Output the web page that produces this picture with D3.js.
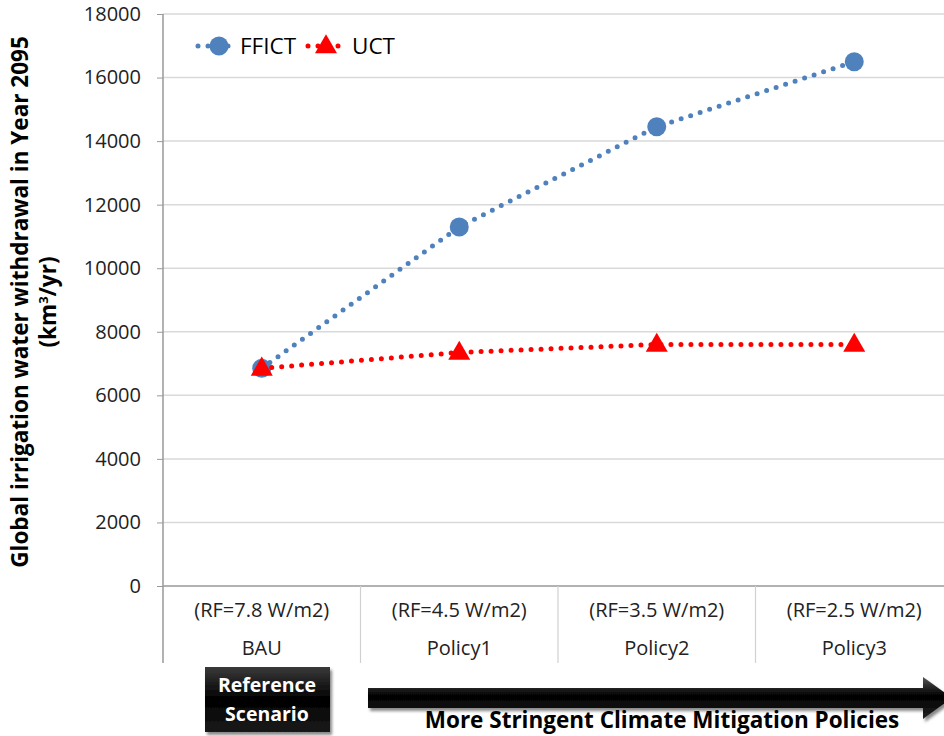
<!DOCTYPE html>
<html>
<head>
<meta charset="utf-8">
<script src="https://cdn.jsdelivr.net/npm/d3@7"></script>
<style>
  body { margin: 0; background: #fff; }
  svg { display: block; font-family: "Open Sans", "Liberation Sans", sans-serif; }
</style>
</head>
<body>
<svg id="chart" width="944" height="736"></svg>
<script>
var categories = ["BAU", "Policy1", "Policy2", "Policy3"]
var rfLabels = ["(RF=7.8 W/m2)", "(RF=4.5 W/m2)", "(RF=3.5 W/m2)", "(RF=2.5 W/m2)"]
var ffict = [6850, 11300, 14450, 16500]
var uct = [6850, 7350, 7600, 7600]
var yTicks = [0, 2000, 4000, 6000, 8000, 10000, 12000, 14000, 16000, 18000]

var plotL = 163, plotR = 953, plotT = 14, plotB = 586, catB = 663
var blue = "#4F81BD", red = "#FF0000"

var svg = d3.select("#chart")
var defs = svg.append("defs")

var x = d3.scaleBand().domain(categories).range([plotL, plotR])
var y = d3.scaleLinear().domain([0, 18000]).range([plotB, plotT])

function cx(i) { return x(categories[i]) + x.bandwidth() / 2 }

// gridlines
svg.append("g").selectAll("line")
  .data(yTicks.filter(function(d) { return d > 0 }))
  .enter().append("line")
  .attr("x1", plotL).attr("x2", plotR)
  .attr("y1", function(d) { return y(d) }).attr("y2", function(d) { return y(d) })
  .attr("stroke", "#D9D9D9").attr("stroke-width", 1.5)

// y axis
var yAxis = d3.axisLeft(y).tickValues(yTicks).tickSize(6).tickPadding(16).tickFormat(d3.format("d"))
var ya = svg.append("g").attr("transform", "translate(" + plotL + ",0)").call(yAxis)
ya.select(".domain").remove()
ya.selectAll(".tick line").attr("stroke", "#999")
ya.selectAll(".tick text").attr("font-size", 20).attr("fill", "#222")
  .attr("font-family", "Open Sans, sans-serif")
svg.append("line").attr("x1", plotL).attr("x2", plotL).attr("y1", plotT).attr("y2", catB)
  .attr("stroke", "#999").attr("stroke-width", 1.5)

// category axis
svg.append("line").attr("x1", plotL).attr("x2", plotR).attr("y1", plotB).attr("y2", plotB)
  .attr("stroke", "#999").attr("stroke-width", 1.5)
svg.append("g").selectAll("line")
  .data(categories.slice(1))
  .enter().append("line")
  .attr("x1", function(d) { return x(d) }).attr("x2", function(d) { return x(d) })
  .attr("y1", plotB).attr("y2", catB)
  .attr("stroke", "#D0D0D0").attr("stroke-width", 1.2)

var cat = svg.append("g").selectAll("g").data(categories).enter().append("g")
  .attr("transform", function(d, i) { return "translate(" + cx(i) + ",0)" })
cat.append("text").attr("y", 617).attr("text-anchor", "middle").attr("font-size", 20)
  .attr("fill", "#222").text(function(d, i) { return rfLabels[i] })
cat.append("text").attr("y", 655).attr("text-anchor", "middle").attr("font-size", 20)
  .attr("fill", "#222").text(function(d) { return d })

// y title
var yt = svg.append("text").attr("transform", "translate(28,302) rotate(-90)")
  .attr("text-anchor", "middle").attr("font-weight", "bold").attr("font-size", 22.5)
  .attr("fill", "#000")
yt.append("tspan").attr("x", 0).attr("dy", 0).text("Global irrigation water withdrawal in Year 2095")
var t2 = yt.append("tspan").attr("x", 0).attr("dy", 28)
t2.append("tspan").text("(km")
t2.append("tspan").attr("font-size", 13).attr("dy", -8).text("3")
t2.append("tspan").attr("dy", 8).text("/yr)")

// series
var line = d3.line()
  .x(function(d, i) { return cx(i) })
  .y(function(d) { return y(d) })

function dotted(g, data, color) {
  g.append("path").datum(data).attr("d", line).attr("fill", "none")
    .attr("stroke", color).attr("stroke-width", 5)
    .attr("stroke-linecap", "round").attr("stroke-dasharray", "0,10")
}

var tri = d3.symbol().type(d3.symbolTriangle).size(210)

dotted(svg, ffict, blue)
svg.append("g").selectAll("circle").data(ffict).enter().append("circle")
  .attr("cx", function(d, i) { return cx(i) })
  .attr("cy", function(d) { return y(d) }).attr("r", 9.5).attr("fill", blue)

dotted(svg, uct, red)
svg.append("g").selectAll("path.tri").data(uct).enter().append("path")
  .attr("class", "tri").attr("d", tri).attr("fill", red)
  .attr("transform", function(d, i) { return "translate(" + cx(i) + "," + (y(d) + 1) + ")" })

// legend
var lg = svg.append("g")
lg.append("line").attr("x1", 198).attr("x2", 232).attr("y1", 46).attr("y2", 46)
  .attr("stroke", blue).attr("stroke-width", 5).attr("stroke-linecap", "round")
  .attr("stroke-dasharray", "0,10")
lg.append("circle").attr("cx", 219).attr("cy", 46).attr("r", 9.5).attr("fill", blue)
lg.append("text").attr("x", 240).attr("y", 54).attr("font-size", 22.5).text("FFICT")
lg.append("line").attr("x1", 308).attr("x2", 340).attr("y1", 46).attr("y2", 46)
  .attr("stroke", red).attr("stroke-width", 5).attr("stroke-linecap", "round")
  .attr("stroke-dasharray", "0,10")
lg.append("path").attr("d", tri).attr("fill", red).attr("transform", "translate(326,47)")
lg.append("text").attr("x", 352).attr("y", 54).attr("font-size", 22.5).text("UCT")

// bottom annotations
var gBox = defs.append("linearGradient").attr("id", "boxg").attr("x1", 0).attr("y1", 0).attr("x2", 0).attr("y2", 1)
gBox.append("stop").attr("offset", "0%").attr("stop-color", "#3a3a3a")
gBox.append("stop").attr("offset", "50%").attr("stop-color", "#000")
gBox.append("stop").attr("offset", "100%").attr("stop-color", "#1a1a1a")
var flt = defs.append("filter").attr("id", "sh").attr("x", "-10%").attr("y", "-10%").attr("width", "130%").attr("height", "140%")
flt.append("feDropShadow").attr("dx", 2).attr("dy", 3).attr("stdDeviation", 1.5).attr("flood-color", "#888")

svg.append("rect").attr("x", 205).attr("y", 667).attr("width", 125).attr("height", 65)
  .attr("fill", "url(#boxg)").attr("filter", "url(#sh)")
svg.append("text").attr("x", 267).attr("y", 692).attr("text-anchor", "middle")
  .attr("font-size", 19.5).attr("font-weight", "bold").attr("fill", "#fff").text("Reference")
svg.append("text").attr("x", 267).attr("y", 721).attr("text-anchor", "middle")
  .attr("font-size", 19.5).attr("font-weight", "bold").attr("fill", "#fff").text("Scenario")

var gArr = defs.append("linearGradient").attr("id", "arrg").attr("x1", 0).attr("y1", 0).attr("x2", 0).attr("y2", 1)
gArr.append("stop").attr("offset", "0%").attr("stop-color", "#555")
gArr.append("stop").attr("offset", "45%").attr("stop-color", "#000")
gArr.append("stop").attr("offset", "100%").attr("stop-color", "#222")
svg.append("path")
  .attr("d", "M368,688 L923,688 L923,677 L952,698 L923,719 L923,708 L368,708 Z")
  .attr("fill", "url(#arrg)").attr("filter", "url(#sh)")
svg.append("text").attr("x", 662).attr("y", 728).attr("text-anchor", "middle")
  .attr("font-size", 22.5).attr("font-weight", "bold").attr("fill", "#000")
  .text("More Stringent Climate Mitigation Policies")
</script>
</body>
</html>
